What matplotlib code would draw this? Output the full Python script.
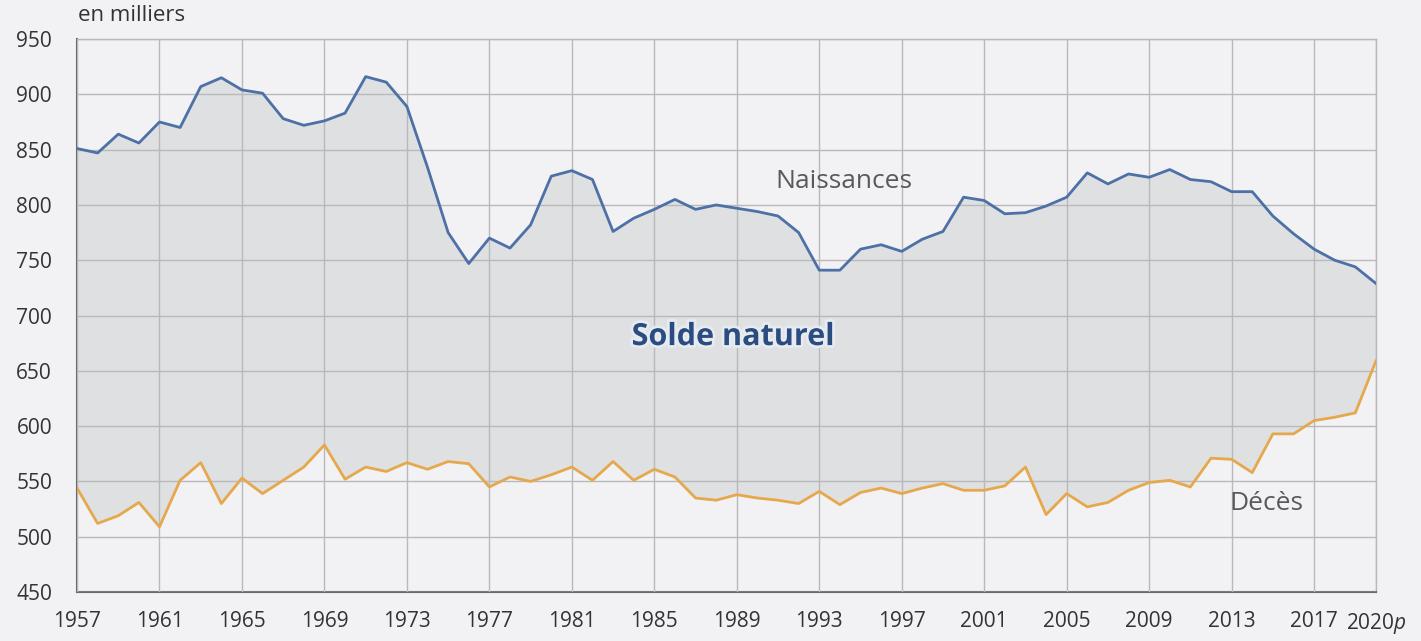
import numpy as np
import matplotlib
matplotlib.use("Agg")
import matplotlib.pyplot as plt
import matplotlib.patheffects as pe

plt.rcParams["font.family"] = ["Open Sans", "DejaVu Sans"]
plt.rcParams["mathtext.fontset"] = "custom"
plt.rcParams["mathtext.rm"] = "Open Sans"
plt.rcParams["mathtext.it"] = "Open Sans:italic"

# Data (en milliers)
years = list(range(1957, 2021))
naissances = [
    851, 847, 864, 856, 875, 870, 907, 915, 904, 901,
    878, 872, 876, 883, 916, 911, 889, 834, 775, 747,
    770, 761, 782, 826, 831, 823, 776, 788, 796, 805,
    796, 800, 797, 794, 790, 775, 741, 741, 760, 764,
    758, 769, 776, 807, 804, 792, 793, 799, 807, 829,
    819, 828, 825, 832, 823, 821, 812, 812, 790, 774,
    760, 750, 744, 729,
]
deces = [
    544, 512, 519, 531, 509, 551, 567, 530, 553, 539,
    551, 563, 583, 552, 563, 559, 567, 561, 568, 566,
    545, 554, 550, 556, 563, 551, 568, 551, 561, 554,
    535, 533, 538, 535, 533, 530, 541, 529, 540, 544,
    539, 544, 548, 542, 542, 546, 563, 520, 539, 527,
    531, 542, 549, 551, 545, 571, 570, 558, 593, 593,
    605, 608, 612, 659,
]
xtick_years = list(range(1957, 2018, 4)) + [2020]
xtick_labels = [str(y) for y in range(1957, 2018, 4)] + ["2020$\\mathit{p}$"]
yticks = list(range(450, 951, 50))

bg = "#f2f2f4"
blue = "#4d70a6"
orange = "#e6a84c"
grid_col = "#b9b9bb"

fig = plt.figure(figsize=(14.21, 6.41), dpi=100, facecolor=bg)
ax = fig.add_axes([0.0542, 0.0764, 0.9141, 0.8627])
ax.set_facecolor(bg)

ax.fill_between(years, deces, naissances, color="#dfe0e1", zorder=1, linewidth=0)
ax.plot(years, naissances, color=blue, linewidth=2.0, zorder=3)
ax.plot(years, deces, color=orange, linewidth=2.0, zorder=3)

ax.set_xlim(1957, 2020)
ax.set_ylim(450, 950)
ax.set_xticks(xtick_years)
ax.set_xticklabels(xtick_labels)
ax.set_yticks(yticks)
ax.tick_params(axis="both", length=0, labelsize=15, colors="#333333")
ax.tick_params(axis="y", pad=18)
ax.tick_params(axis="x", pad=14)

ax.grid(True, color=grid_col, linewidth=1.0, zorder=2)
ax.set_axisbelow(False)
for side in ["top", "right"]:
    ax.spines[side].set_color(grid_col)
    ax.spines[side].set_linewidth(1.0)
for side in ["left", "bottom"]:
    ax.spines[side].set_color("#6a6a6a")
    ax.spines[side].set_linewidth(1.5)

ax.text(1957.05, 962, "en milliers", fontsize=16, color="#333333",
        ha="left", va="bottom")
ax.text(1994.2, 821, "Naissances", fontsize=19, color="#595959",
        ha="center", va="center", zorder=4)
ax.text(2014.7, 530, "Décès", fontsize=19, color="#595959",
        ha="center", va="center", zorder=4)
ax.text(1988.8, 680.5, "Solde naturel", fontsize=22, fontweight="bold",
        color="#2b4c7e", ha="center", va="center", zorder=4,
        path_effects=[pe.withStroke(linewidth=4, foreground="#e6ebf2")])

fig.savefig("out.png", dpi=100, facecolor=bg)
